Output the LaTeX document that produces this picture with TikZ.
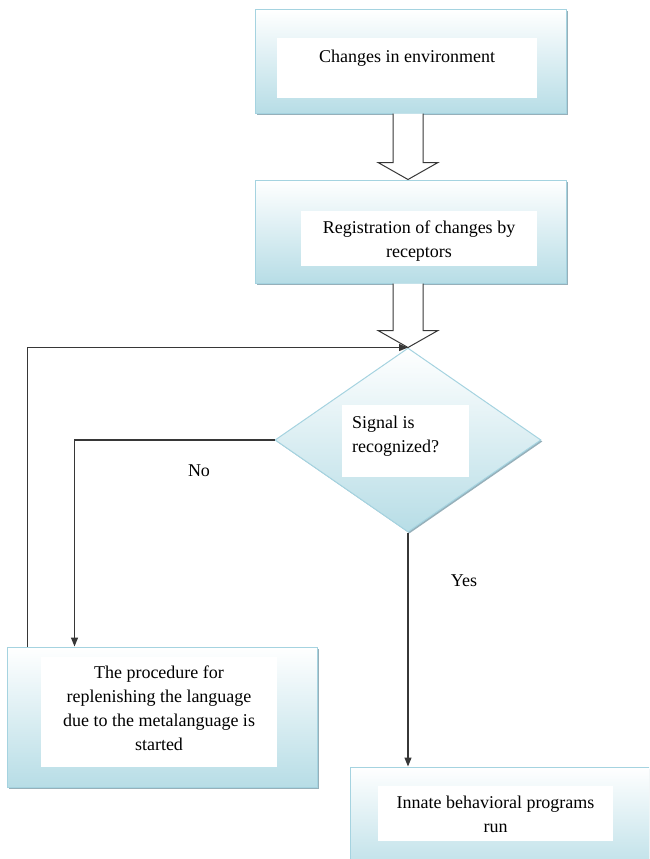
\documentclass[tikz,border=0pt]{standalone}
\usepackage{fontspec}
\setmainfont{Liberation Serif}
\usetikzlibrary{shapes.geometric,shadows,arrows.meta,calc}
\definecolor{panelblue}{RGB}{183,221,230}
\definecolor{panelline}{RGB}{165,211,224}
\definecolor{panelshadow}{RGB}{150,176,186}
\definecolor{flowline}{RGB}{55,55,55}
\tikzset{
  panel/.style={draw=panelline, line width=1pt, top color=white, bottom color=panelblue, inner sep=0pt,
    drop shadow={shadow xshift=1.5pt, shadow yshift=-1.5pt, fill=panelshadow, opacity=1}},
  panelbox/.style={panel, rectangle},
  decision/.style={panel, diamond},
  whitebox/.style={fill=white, draw=none, inner sep=0pt},
  txt/.style={font=\fontsize{18}{24}\selectfont, align=center, inner sep=0pt},
  flow/.style={draw=flowline, line width=1.2pt, -{Triangle[length=9pt,width=7pt]}},
  fat/.style={draw=flowline, line width=1pt, fill=white},
}
\begin{document}
\begin{tikzpicture}[x=1pt, y=-1pt]
\useasboundingbox (0,0) rectangle (649,859);
\clip (0,0) rectangle (649,859);
% panels
\node[panelbox, minimum width=311, minimum height=103] (env) at (410.5,61.5) {};
\node[panelbox, minimum width=311, minimum height=103] (reg) at (410.5,231.5) {};
\node[decision, minimum width=266, minimum height=184] (dia) at (408,440) {};
\node[panelbox, minimum width=310, minimum height=140] (proc) at (162,717) {};
\node[panelbox, minimum width=310, minimum height=113] (run) at (505,823.5) {};
% white text boxes
\node[whitebox, minimum width=260, minimum height=60] (envin) at (407,68) {};
\node[whitebox, minimum width=236, minimum height=55] (regin) at (419,238.5) {};
\node[whitebox, minimum width=127, minimum height=72] (diain) at (405.5,441) {};
\node[whitebox, minimum width=236, minimum height=110] (procin) at (159,712) {};
\node[whitebox, minimum width=235, minimum height=55] (runin) at (495.5,813.5) {};
% texts
\node[txt] (envtxt) at (407,58) {Changes in environment};
\node[txt] (regtxt) at (419,241) {Registration of changes by\\receptors};
\node[txt, align=left, anchor=west] (diatxt) at (352,436) {Signal is\\recognized?};
\node[txt] (proctxt) at (159,708) {The procedure for\\replenishing the language\\due to the metalanguage is\\started};
\node[txt] (runtxt) at (495.5,814) {Innate behavioral programs\\run};
\node[txt] (no) at (199,471) {No};
\node[txt] (yes) at (464,581) {Yes};
% block arrows
\foreach \a/\b in {env/reg,reg/dia}{
  \coordinate (p) at (\a.south -| dia.north);
  \coordinate (q) at (\b.north -| dia.north);
  \draw[fat] ($(p)+(-15,0)$) -- ($(q)+(-15,-17)$) -- ($(q)+(-30,-17)$) -- (q)
    -- ($(q)+(30,-17)$) -- ($(q)+(15,-17)$) -- ($(p)+(15,0)$);
}
% connectors
\draw[flow] ([xshift=21pt]proc.north west) |- (dia.north);
\draw[flow] (dia.west) -| ([xshift=68pt]proc.north west);
\draw[flow] (dia.south) -- (dia.south |- run.north);
\end{tikzpicture}
\end{document}
